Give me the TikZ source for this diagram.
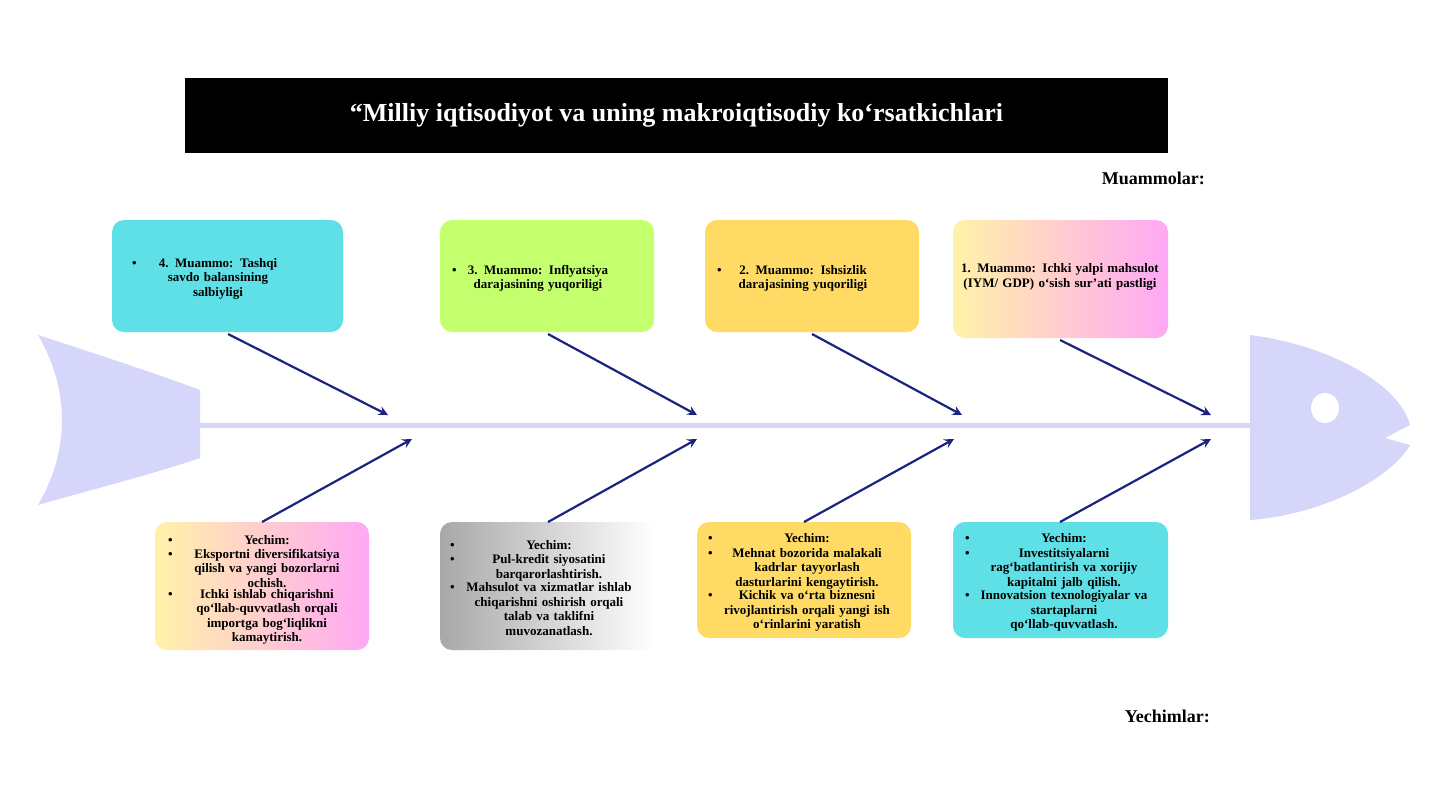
\documentclass[tikz,border=0pt]{standalone}
\usepackage{fontspec}
\setmainfont{Liberation Serif}
\definecolor{fishblue}{HTML}{D6D6FA}
\definecolor{arrowblue}{HTML}{1A237E}
\definecolor{boxcyan}{HTML}{5EE0E6}
\definecolor{boxgreen}{HTML}{C4FF6E}
\definecolor{boxyellow}{HTML}{FFDB66}
\definecolor{paleyellow}{HTML}{FFF2A8}
\definecolor{palepink}{HTML}{FFA8F5}
\definecolor{boxgray}{HTML}{A8A8A8}
\newcommand{\bitem}[2][85pt]{\par\noindent\makebox[7pt][l]{\textbullet}\parbox[t]{#1}{\centering #2}}
\begin{document}
\begin{tikzpicture}[x=0.5pt,y=-0.5pt,
    bone/.style={draw=arrowblue,line width=1.1pt,->,>=stealth},
    boxtext/.style={font=\fontsize{6.5}{7.2}\selectfont\bfseries,align=left,text width=95pt,inner sep=0pt}]
  \useasboundingbox (0,0) rectangle (1440,810);
  % fish body
  \fill[fishblue] (38,335) .. controls (100,355) and (160,375) .. (200,390)
    -- (200,458) .. controls (150,475) and (90,490) .. (38,505)
    .. controls (70,450) and (70,390) .. (38,335) -- cycle;
  \fill[fishblue] (1250,335) .. controls (1330,345) and (1400,385) .. (1410,425)
    -- (1385,438) -- (1410,445) .. controls (1390,480) and (1320,515) .. (1250,520) -- cycle;
  \fill[white] (1325,408) ellipse (14 and 15);
  \draw[fishblue,line width=2.5pt] (200,425) -- (1250,425);
  % title
  \node (title) [fill=black,minimum width=491.5pt,minimum height=37.5pt,text=white,
    font=\fontsize{13}{15}\selectfont\bfseries] at (676.5,115.5)
    {“Milliy iqtisodiyot va uning makroiqtisodiy ko‘rsatkichlari};
  \node (muammo) [font=\fontsize{9}{10}\selectfont\bfseries,anchor=east] at (1212,178) {Muammolar:};
  \node (yechim) [font=\fontsize{9}{10}\selectfont\bfseries,anchor=east] at (1217,716) {Yechimlar:};
  % problems
  \fill[boxcyan,rounded corners=6pt] (112,220) rectangle (343,332);
  \fill[boxgreen,rounded corners=6pt] (440,220) rectangle (654,332);
  \fill[boxyellow,rounded corners=6pt] (705,220) rectangle (919,332);
  \shade[left color=paleyellow,right color=palepink,rounded corners=6pt] (953,220) rectangle (1168,338);
  \node (p4) [boxtext] at (227,276) {\bitem[72pt]{4. Muammo: Tashqi savdo balansining salbiyligi}};
  \node (p3) [boxtext] at (547,276) {\bitem[72pt]{3. Muammo: Inflyatsiya darajasining yuqoriligi}};
  \node (p2) [boxtext] at (812,276) {\bitem[72pt]{2. Muammo: Ishsizlik darajasining yuqoriligi}};
  \node (p1) [boxtext,align=center,text width=102pt] at (1060,277) {1. Muammo: Ichki yalpi mahsulot\\(IYM/ GDP) o‘sish sur’ati pastligi};
  % solutions
  \shade[left color=paleyellow,right color=palepink,rounded corners=6pt] (155,522) rectangle (369,650);
  \shade[left color=boxgray,right color=white,rounded corners=6pt] (440,522) rectangle (655,650);
  \fill[boxyellow,rounded corners=6pt] (697,522) rectangle (911,638);
  \fill[boxcyan,rounded corners=6pt] (953,522) rectangle (1168,638);
  \node (s4) [boxtext] at (263,587) {\bitem{Yechim:}\bitem{Eksportni diversifikatsiya qilish va yangi bozorlarni ochish.}\bitem{Ichki ishlab chiqarishni qo‘llab-quvvatlash orqali importga bog‘liqlikni kamaytirish.}};
  \node (s3) [boxtext] at (545,585) {\bitem{Yechim:}\bitem{Pul-kredit siyosatini barqarorlashtirish.}\bitem{Mahsulot va xizmatlar ishlab chiqarishni oshirish orqali talab va taklifni muvozanatlash.}};
  \node (s2) [boxtext] at (803,580) {\bitem{Yechim:}\bitem{Mehnat bozorida malakali kadrlar tayyorlash dasturlarini kengaytirish.}\bitem{Kichik va o‘rta biznesni rivojlantirish orqali yangi ish o‘rinlarini yaratish}};
  \node (s1) [boxtext] at (1060,580) {\bitem{Yechim:}\bitem{Investitsiyalarni rag‘batlantirish va xorijiy kapitalni jalb qilish.}\bitem{Innovatsion texnologiyalar va startaplarni qo‘llab-quvvatlash.}};
  % bones
  \coordinate (t4a) at (228,334); \coordinate (t4b) at (388,415);
  \coordinate (t3a) at (548,334); \coordinate (t3b) at (697,415);
  \coordinate (t2a) at (812,334); \coordinate (t2b) at (962,415);
  \coordinate (t1a) at (1060,340); \coordinate (t1b) at (1211,415);
  \coordinate (b4a) at (262,522); \coordinate (b4b) at (412,439);
  \coordinate (b3a) at (548,522); \coordinate (b3b) at (697,439);
  \coordinate (b2a) at (804,522); \coordinate (b2b) at (954,439);
  \coordinate (b1a) at (1060,522); \coordinate (b1b) at (1211,439);
  \foreach \i in {1,...,4} {
    \draw[bone] (t\i a) -- (t\i b);
    \draw[bone] (b\i a) -- (b\i b);
  }
\end{tikzpicture}
\end{document}
